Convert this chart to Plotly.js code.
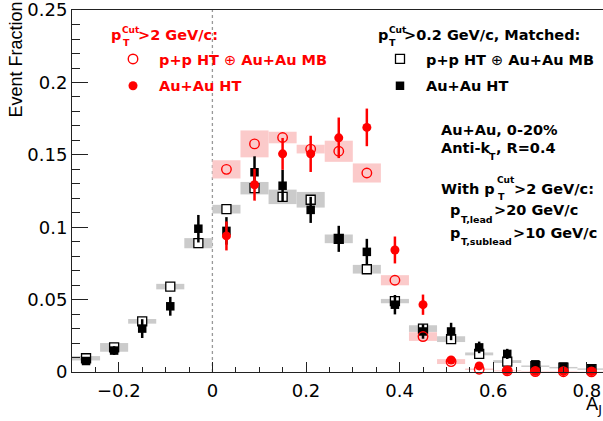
<!DOCTYPE html>
<html><head><meta charset="utf-8">
<script src="https://cdn.plot.ly/plotly-3.0.1.min.js"></script>
<style>html,body{margin:0;padding:0;background:#fff}</style>
</head><body><div id="chart" style="width:603px;height:421px"></div>
<script>
// A_J bin centres
const ajBins = [-0.27,-0.21,-0.15,-0.09,-0.03,0.03,0.09,0.15,0.21,0.27,0.33,0.39,0.45,0.51,0.57,0.63,0.69,0.75,0.81];
// pT^Cut > 0.2 GeV/c, matched: p+p HT (+) Au+Au MB (open squares) with systematic boxes
const embMatched    = [0.0095,0.017,0.035,0.059,0.089,0.1125,0.127,0.121,0.119,0.092,0.071,0.049,0.030,0.0227,0.0125,0.0072,0.004,0.003,0.002];
const embMatchedSys = [0.0015,0.003,0.0016,0.0019,0.0035,0.003,0.0043,0.005,0.0054,0.003,0.003,0.0015,0.0023,0.002,0.001,0.001,0.0005,0.0005,0.0005];
// pT^Cut > 0.2 GeV/c, matched: Au+Au HT (filled squares) with stat errors
const auauMatched    = [0.0076,0.0148,0.030,0.0454,0.099,0.0975,0.138,0.1287,0.112,0.092,0.083,0.0465,0.028,0.028,0.017,0.0125,0.0053,0.0037,0.002];
const auauMatchedErr = [0.002,0.003,0.0065,0.0065,0.0095,0.0095,0.011,0.011,0.009,0.009,0.009,0.0067,0.005,0.006,0.004,0.0035,0.002,0.0015,0.0015];
// pT^Cut > 2 GeV/c bins
const ajBinsHi = [0.03,0.09,0.15,0.21,0.27,0.33,0.39,0.45,0.51,0.57,0.63,0.69,0.75,0.81];
// pT^Cut > 2 GeV/c: p+p HT (+) Au+Au MB (open circles) with systematic boxes
const embHi    = [0.140,0.1576,0.162,0.154,0.1525,0.1375,0.0634,0.0245,0.0072,0.0019,0.0008,0.0003,0.0002,0.0001];
const embHiSys = [0.0063,0.0093,0.004,0.003,0.0073,0.0066,0.0035,0.003,0.0017,0.0005,0.0003,0.0002,0.0002,0.0001];
// pT^Cut > 2 GeV/c: Au+Au HT (filled circles) with stat errors
const auauHi    = [0.094,0.1294,0.1507,0.1507,0.1618,0.169,0.0843,0.0465,0.0083,0.0042,0.001,0.0005,0.0004,0.0003];
const auauHiErr = [0.010,0.011,0.011,0.0125,0.014,0.013,0.0093,0.007,0.002,0.0015,0.0008,0.0005,0.0004,0.0003];
// axis tick values
const yTicks = [0, 0.05, 0.1, 0.15, 0.2, 0.25];
const yTickText = ['0', '0.05', '0.1', '0.15', '0.2', '0.25'];

const RED = '#ff0000';
const BOLD = 'DejaVu Sans, sans-serif';
const REG = 'DejaVu Sans, sans-serif';

function sysBox(x, y, s, color) {
  return {type:'bar', x:x, y:s.map(v=>2*v), base:y.map((v,i)=>v-s[i]), width:0.06,
    marker:{color:color, line:{width:0}}, showlegend:false, hoverinfo:'skip'};
}

const traces = [
  sysBox(ajBins, embMatched, embMatchedSys, '#cbcbcb'),
  sysBox(ajBinsHi, embHi, embHiSys, '#fbcaca'),
  {type:'scatter', mode:'markers', x:ajBins, y:embMatched, name:'<b>p+p HT </b>⊕<b> Au+Au MB</b>',
   marker:{symbol:'square', size:9, color:'white', line:{width:1.3, color:'black'}}, cliponaxis:false,
   legend:'legend2', legendgroup:'b1', hoverinfo:'skip'},
  {type:'scatter', mode:'markers', x:ajBins, y:auauMatched, name:'<b>Au+Au HT</b>',
   error_y:{type:'data', array:auauMatchedErr, color:'black', thickness:2.5, width:0},
   marker:{symbol:'square', size:8.5, color:'black'}, cliponaxis:false,
   legend:'legend2', legendgroup:'b2', hoverinfo:'skip'},
  {type:'scatter', mode:'markers', x:ajBinsHi, y:embHi, name:'<b>p+p HT </b>⊕<b> Au+Au MB</b>',
   marker:{symbol:'circle-open', size:9.5, color:RED, line:{width:1.4}}, cliponaxis:false,
   legend:'legend', legendgroup:'r1', hoverinfo:'skip'},
  {type:'scatter', mode:'markers', x:ajBinsHi, y:auauHi, name:'<b>Au+Au HT</b>',
   error_y:{type:'data', array:auauHiErr, color:RED, thickness:2.5, width:0},
   marker:{symbol:'circle', size:9, color:RED}, cliponaxis:false,
   legend:'legend', legendgroup:'r2', hoverinfo:'skip'}
];

const L = 72, T = 10, W = 531, H = 362;
const px = x => (x - L) / W;
const py = y => (T + H - y) / H;
function ann(text, x, yb, s, color, fam) {
  return {text:text, xref:'paper', yref:'paper', x:px(x), y:py(yb - 0.346*s), xanchor:'left', yanchor:'middle',
    showarrow:false, borderpad:0, font:{family:fam||BOLD, size:s, color:color||'black'}};
}

const annotations = [
  // red header
  ann('<b>p</b>', 110, 40, 14.5, RED),
  ann('<b>Cut</b>', 121, 33, 9, RED),
  ann('<b>T</b>', 121.5, 46, 9.5, RED),
  ann('<b>>2 GeV/c:</b>', 137, 40, 14.5, RED),
  // black header
  ann('<b>p</b>', 377, 40, 14.5),
  ann('<b>Cut</b>', 387.5, 33, 9),
  ann('<b>T</b>', 388, 46, 9.5),
  ann('<b>>0.2 GeV/c, Matched:</b>', 403, 40, 14.5),
  // info block
  ann('<b>Au+Au, 0-20%</b>', 440, 135, 14.5),
  ann('<b>Anti-k</b>', 440, 153, 14.5),
  ann('<b>T</b>', 488, 160, 9.5),
  ann('<b>, R=0.4</b>', 495, 153, 14.5),
  ann('<b>With p</b>', 440, 194, 14.5),
  ann('<b>Cut</b>', 496, 183, 9),
  ann('<b>T</b>', 496.5, 200, 9.5),
  ann('<b>>2 GeV/c:</b>', 513, 194, 14.5),
  ann('<b>p</b>', 449, 215.5, 14.5),
  ann('<b>T,lead</b>', 460, 222.5, 9.5),
  ann('<b>>20 GeV/c</b>', 493, 215.5, 14.5),
  ann('<b>p</b>', 449, 238, 14.5),
  ann('<b>T,sublead</b>', 460, 245, 9.5),
  ann('<b>>10 GeV/c</b>', 512, 238, 14.5),
  // axis titles
  {text:'Event Fraction', xref:'paper', yref:'paper', x:px(15.5), y:py(60), xanchor:'center', yanchor:'middle',
   textangle:-90, showarrow:false, borderpad:0, font:{family:'Liberation Sans, Arial, sans-serif', size:18, color:'black'}},
  {text:'A<sub>J</sub>', xref:'paper', yref:'paper', x:px(585), y:py(411 - 0.346*18), xanchor:'left', yanchor:'middle',
   showarrow:false, borderpad:0, font:{family:REG, size:18, color:'black'}}
];

const axisCommon = {showline:true, linecolor:'#222', linewidth:1, mirror:true, showgrid:false, zeroline:false,
  ticks:'inside', tickcolor:'#222', tickwidth:1, ticklabeloverflow:'allow',
  tickfont:{family:REG, size:18, color:'black'}};

const layout = {
  width:603, height:421,
  margin:{l:L, r:603-L-W, t:T, b:421-T-H},
  paper_bgcolor:'white', plot_bgcolor:'white',
  barmode:'overlay', showlegend:true, hovermode:false,
  xaxis:Object.assign({}, axisCommon, {range:[-0.3,0.8346], tick0:0, dtick:0.2, ticklen:10, ticklabelstandoff:2,
    minor:{tick0:0, dtick:0.05, ticks:'inside', ticklen:5, tickcolor:'#222', showgrid:false}}),
  yaxis:Object.assign({}, axisCommon, {range:[0,0.2501], tickmode:'array', tickvals:yTicks, ticktext:yTickText, ticklen:16,
    minor:{tick0:0, dtick:0.01, ticks:'inside', ticklen:8, tickcolor:'#222', showgrid:false}}),
  legend:{x:px(107), y:py(43), xanchor:'left', yanchor:'top', bgcolor:'rgba(0,0,0,0)', borderwidth:0,
    itemwidth:42, tracegroupgap:5, traceorder:'grouped', font:{family:BOLD, size:14.5, color:RED}},
  legend2:{x:px(374), y:py(43), xanchor:'left', yanchor:'top', bgcolor:'rgba(0,0,0,0)', borderwidth:0,
    itemwidth:42, tracegroupgap:5, traceorder:'grouped', font:{family:BOLD, size:14.5, color:'black'}},
  shapes:[{type:'line', xref:'x', yref:'paper', x0:0, x1:0, y0:0, y1:1, layer:'below',
    line:{color:'#999999', width:1.3, dash:'3px,3px'}}],
  annotations:annotations
};

Plotly.newPlot('chart', traces, layout, {staticPlot:true, displayModeBar:false});
</script>
</body></html>
